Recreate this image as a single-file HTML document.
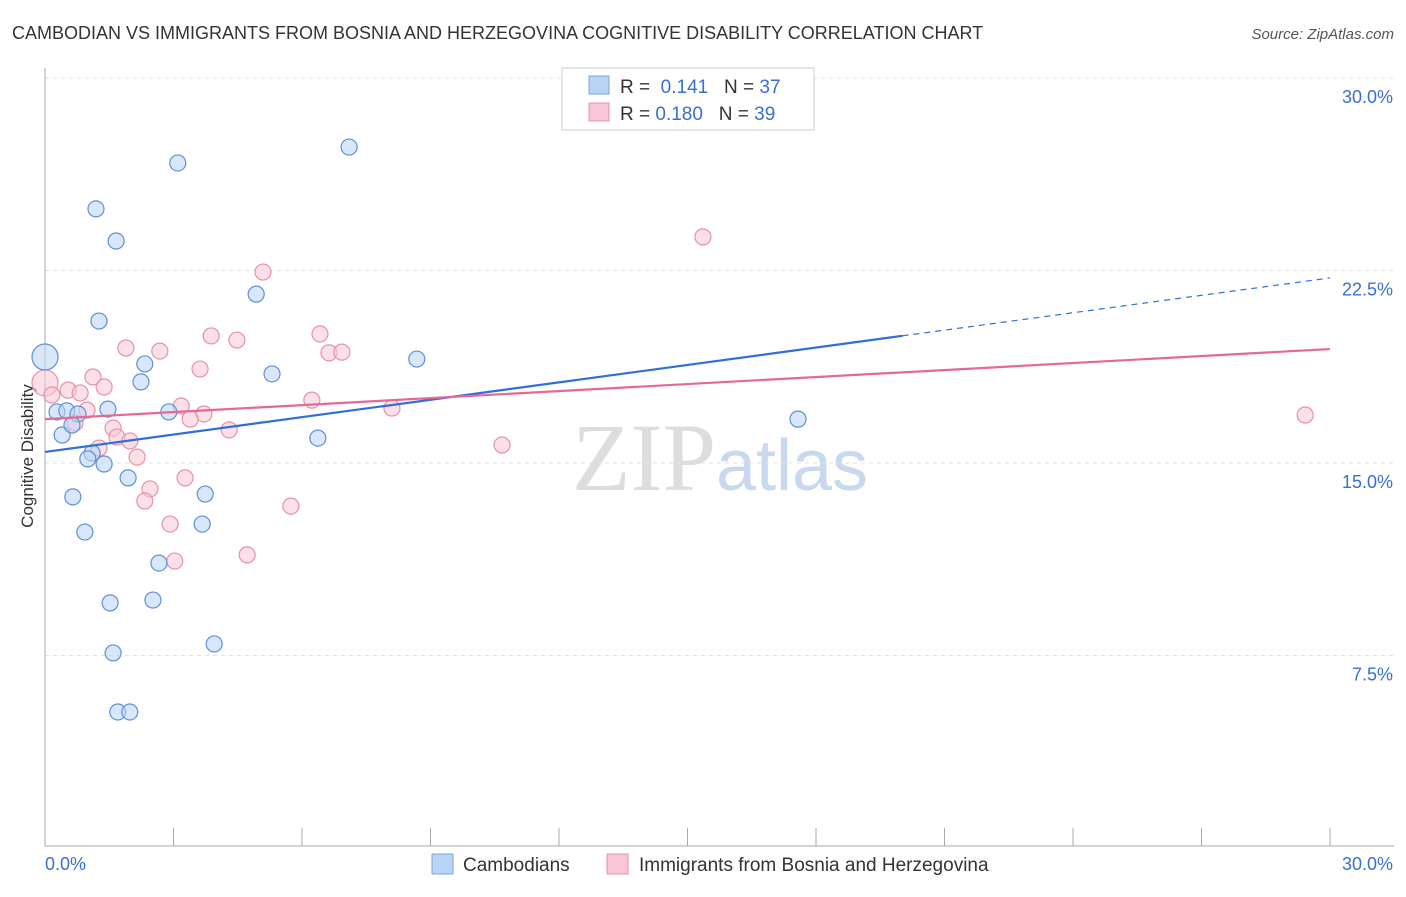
<!DOCTYPE html>
<html><head><meta charset="utf-8"><style>
body{margin:0;background:#fff;font-family:"Liberation Sans",sans-serif}
</style></head><body>
<svg id="c" width="1406" height="892" xmlns="http://www.w3.org/2000/svg" style="font-family:'Liberation Sans',sans-serif">
<text x="12" y="39" font-size="18" fill="#333">CAMBODIAN VS IMMIGRANTS FROM BOSNIA AND HERZEGOVINA COGNITIVE DISABILITY CORRELATION CHART</text>
<text x="1394" y="39" font-size="15" fill="#555" text-anchor="end" font-style="italic">Source: ZipAtlas.com</text>
<text x="720" y="490" font-size="96" text-anchor="middle" fill="#ddd" font-family="Liberation Serif,serif">ZIP<tspan fill="#c8d8ee" font-family="Liberation Sans,sans-serif" font-size="72">atlas</tspan></text>
<text transform="translate(33,456) rotate(-90)" font-size="17" fill="#333" text-anchor="middle">Cognitive Disability</text>
<g id="grid"></g><g id="pts"></g><g id="lines"></g>
<g>
<rect x="562" y="68" width="252" height="62" fill="#fff" stroke="#ccc"/>
<rect x="589" y="76" width="20" height="18" fill="#b9d3f5" stroke="#7aa6e0"/>
<text x="620" y="93" font-size="19" fill="#333">R = <tspan fill="#3a6fd0">&#160;0.141</tspan>&#160;&#160;&#160;N = <tspan fill="#3a6fd0">37</tspan></text>
<rect x="589" y="103" width="20" height="18" fill="#f9c6d5" stroke="#e890aa"/>
<text x="620" y="120" font-size="19" fill="#333">R = <tspan fill="#3a6fd0">0.180</tspan>&#160;&#160;&#160;N = <tspan fill="#3a6fd0">39</tspan></text>
</g>
<g>
<rect x="432" y="854" width="21" height="20" fill="#b9d3f5" stroke="#7aa6e0"/>
<text x="463" y="871" font-size="19" fill="#333">Cambodians</text>
<rect x="607" y="854" width="21" height="20" fill="#f9c6d5" stroke="#e890aa"/>
<text x="639" y="871" font-size="19" fill="#333">Immigrants from Bosnia and Herzegovina</text>
</g>
</svg>
<script>
const blueX=[0,1.19,1.66,3.10,7.10,1.26,4.93,2.33,2.24,5.30,8.68,0.28,0.51,0.77,1.47,2.89,0.40,0.63,1.10,1.00,1.38,6.37,17.58,1.94,0.65,3.74,0.93,3.67,2.66,1.52,2.52,3.95,1.59,1.70,1.98];
const blueY=[19.13,24.9,23.65,26.69,27.31,20.53,21.58,18.86,18.16,18.47,19.05,16.99,17.03,16.91,17.10,16.99,16.09,16.48,15.39,15.16,14.96,15.97,16.71,14.42,13.68,13.79,12.31,12.62,11.10,9.55,9.66,7.95,7.60,5.30,5.30];
const pinkX=[0,0.16,0.54,0.82,1.12,1.38,0.98,0.70,1.89,2.68,3.62,3.88,4.48,5.09,6.42,6.63,6.93,6.23,8.10,3.18,3.71,3.39,4.30,1.59,1.68,1.98,1.26,2.15,2.45,2.33,3.27,2.92,3.03,4.72,5.74,10.67,15.36,29.42];
const pinkY=[18.12,17.65,17.84,17.73,18.35,17.96,17.06,16.56,19.48,19.36,18.66,19.95,19.79,22.44,20.03,19.29,19.32,17.45,17.14,17.22,16.91,16.71,16.29,16.36,16.01,15.86,15.58,15.23,13.99,13.52,14.42,12.62,11.18,11.42,13.32,15.70,23.81,16.87];
const yTicks=[7.5,15,22.5,30];
const yTickLabels=["7.5%","15.0%","22.5%","30.0%"];
const blueTrend=[15.43,0.226,20.02];
const pinkTrend=[16.71,0.091];
const NS="http://www.w3.org/2000/svg";
const sx=v=>45+v/30*1285, sy=v=>848-v/30*770;
function mk(p,t,a){const e=document.createElementNS(NS,t);for(const k in a)e.setAttribute(k,a[k]);p.appendChild(e);return e;}
const g=document.getElementById('grid');
yTicks.forEach((t,i)=>{const l=mk(g,'line',{x1:45,x2:1394,y1:sy(t),y2:sy(t),stroke:'#e2e2e2','stroke-dasharray':'4,4'});


const tx=mk(g,'text',{x:1393,y:sy(t)+25,'font-size':18,fill:'#3a6fd0','text-anchor':'end'});tx.textContent=yTickLabels[i];

});
mk(g,'line',{x1:45,x2:45,y1:68,y2:846,stroke:'#aaa'});
mk(g,'line',{x1:45,x2:1394,y1:846,y2:846,stroke:'#aaa'});
for(let i=1;i<=10;i++){const x=45+i*128.5;mk(g,'line',{x1:x,x2:x,y1:828,y2:846,stroke:'#aaa'});}
let t0=mk(g,'text',{x:45,y:870,'font-size':18,fill:'#3a6fd0'});t0.textContent='0.0%';


let t1=mk(g,'text',{x:1393,y:870,'font-size':18,fill:'#3a6fd0','text-anchor':'end'});t1.textContent='30.0%';


const P=document.getElementById('pts');
function dots(X,Y,f,s,n){X.forEach((x,i)=>{const c=mk(P,'circle',{cx:sx(x),cy:sy(Y[i]),r:i==0?13:8,fill:f,'fill-opacity':0.55,stroke:s,'stroke-width':1.2});

});}
dots(pinkX,pinkY,'#f9c6d5','#e890aa','pink-point');
dots(blueX,blueY,'#b9d3f5','#5f8fd8','blue-point');
const L=document.getElementById('lines');
const bl=v=>blueTrend[0]+blueTrend[1]*v;
let a=mk(L,'line',{x1:sx(0),y1:sy(bl(0)),x2:sx(blueTrend[2]),y2:sy(bl(blueTrend[2])),stroke:'#2f6fd6','stroke-width':2.2});


let b=mk(L,'line',{x1:sx(blueTrend[2]),y1:sy(bl(blueTrend[2])),x2:sx(30),y2:sy(bl(30)),stroke:'#2f6fd6','stroke-width':1.2,'stroke-dasharray':'6,5'});


let p=mk(L,'line',{x1:sx(0),y1:sy(pinkTrend[0]),x2:sx(30),y2:sy(pinkTrend[0]+pinkTrend[1]*30),stroke:'#e46a94','stroke-width':2.2});


</script>
</body></html>
